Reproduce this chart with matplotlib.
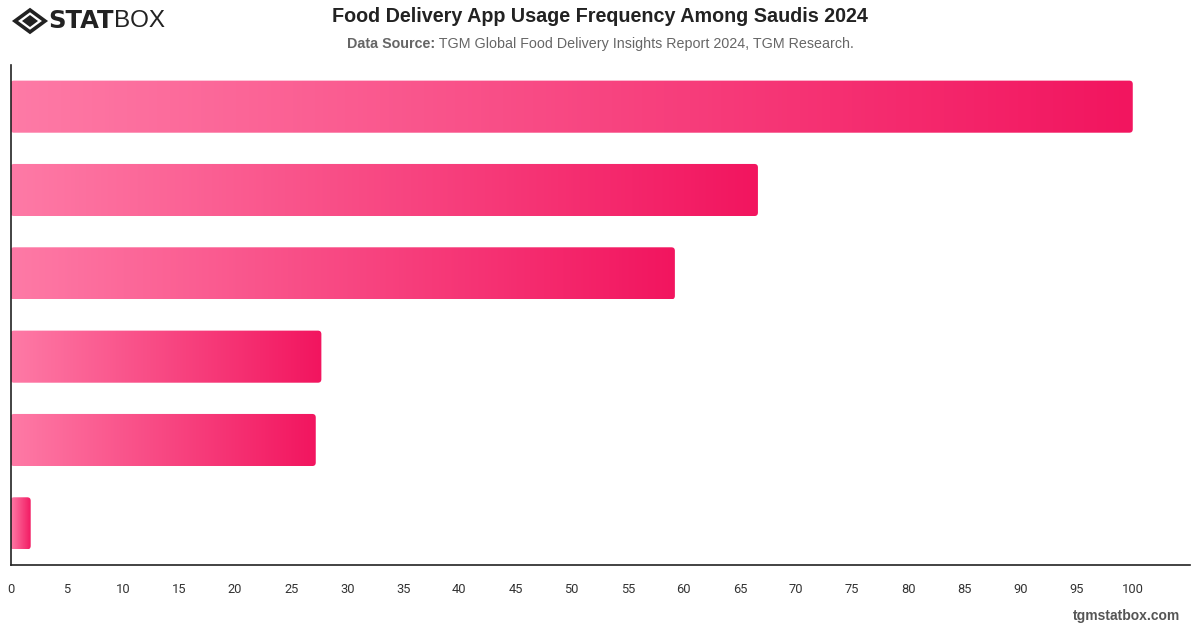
"""
Food Delivery App Usage Frequency Among Saudis 2024 - horizontal gradient bars
"""
import matplotlib
matplotlib.use('Agg')
import matplotlib.pyplot as plt
import numpy as np
from matplotlib.patches import FancyBboxPatch, Polygon
from matplotlib.colors import LinearSegmentedColormap

plt.rcParams['font.family'] = ['Liberation Sans', 'DejaVu Sans']

# Du lieu (nhan danh muc khong hien thi tren hinh)
categories = ['Cat 1', 'Cat 2', 'Cat 3', 'Cat 4', 'Cat 5', 'Cat 6']
values = [100, 66.6, 59.2, 27.7, 27.2, 1.8]
x_ticks = list(range(0, 101, 5))

title = 'Food Delivery App Usage Frequency Among Saudis 2024'
source_bold = 'Data Source:'
source_text = ' TGM Global Food Delivery Insights Report 2024, TGM Research.'

W, H = 1200, 628
fig = plt.figure(figsize=(W / 100, H / 100), dpi=100)
fig.patch.set_facecolor('white')

# axes: x 10.5 -> 1190 px, y 65 -> 565 px
ax = fig.add_axes([10.5 / W, 1 - 565 / H, (1190 - 10.5) / W, 500 / H])
xmax = 105.1
ax.set_xlim(0, xmax)
ax.set_ylim(len(values) - 0.5, -0.5)

cmap = LinearSegmentedColormap.from_list('pink', ['#fe7aa6', '#f2155f'])
grad = np.linspace(0, 1, 256).reshape(1, -1)

bar_h = 0.625
px_per_x = (1190 - 10.5) / xmax
px_per_y = 500 / len(values)
aspect = px_per_x / px_per_y
r = 3.5 / px_per_x

for i, v in enumerate(values):
    y0 = i - bar_h / 2
    patch = FancyBboxPatch((0, y0), v, bar_h,
                           boxstyle=f'round,pad=0,rounding_size={r}',
                           mutation_aspect=aspect,
                           facecolor='none', edgecolor='none')
    ax.add_patch(patch)
    im = ax.imshow(grad, cmap=cmap, aspect='auto',
                   extent=[0, v, y0 + bar_h, y0], interpolation='bilinear', zorder=2)
    im.set_clip_path(patch)

ax.set_xlim(0, xmax)
ax.set_ylim(len(values) - 0.5, -0.5)

ax.set_xticks(x_ticks)
ax.set_xticklabels([str(t) for t in x_ticks], fontsize=9.3, color='#333333',
                   family=['Roboto', 'DejaVu Sans'])
ax.tick_params(axis='x', length=0, pad=13)
ax.set_yticks([])
for s in ['top', 'right']:
    ax.spines[s].set_visible(False)
for s in ['left', 'bottom']:
    ax.spines[s].set_color('#222222')
    ax.spines[s].set_linewidth(1.2)

# Tieu de
fig.text(600 / W, 1 - 17 / H, title, ha='center', va='center',
         fontsize=14.2, fontweight='bold', color='#222222')
t1 = fig.text(347 / W, 1 - 44 / H, source_bold, ha='left', va='center',
              fontsize=10.3, fontweight='bold', color='#666666')
fig.canvas.draw()
bb = t1.get_window_extent()
fig.text(bb.x1 / W, 1 - 44 / H, source_text, ha='left', va='center',
         fontsize=10.3, color='#666666')

# Logo STATBOX
cx, cy = 30, 21
outer = Polygon([(cx - 15, cy), (cx, cy - 11), (cx + 15, cy), (cx, cy + 11)],
                closed=True, facecolor='none', edgecolor='#222222', linewidth=2.6,
                transform=None)
inner = Polygon([(cx - 8, cy), (cx, cy - 6), (cx + 8, cy), (cx, cy + 6)],
                closed=True, facecolor='#222222', edgecolor='none', transform=None)
for p in (outer, inner):
    p.set_xy([(x, H - y) for x, y in p.get_xy()])
    fig.patches.append(p)
ts = fig.text(48 / W, 1 - 21 / H, 'STAT', ha='left', va='center',
              fontsize=17.5, fontweight='heavy', color='#222222',
              family=['DejaVu Sans'])
fig.canvas.draw()
bb = ts.get_window_extent()
fig.text(bb.x1 / W, 1 - 21 / H, 'BOX', ha='left', va='center',
         fontsize=17.5, fontweight='light', color='#222222')

# Footer
fig.text(1180 / W, 1 - 616 / H, 'tgmstatbox.com', ha='right', va='center',
         fontsize=10, fontweight='bold', color='#555555')

plt.savefig('out.png', dpi=100)
plt.close()
